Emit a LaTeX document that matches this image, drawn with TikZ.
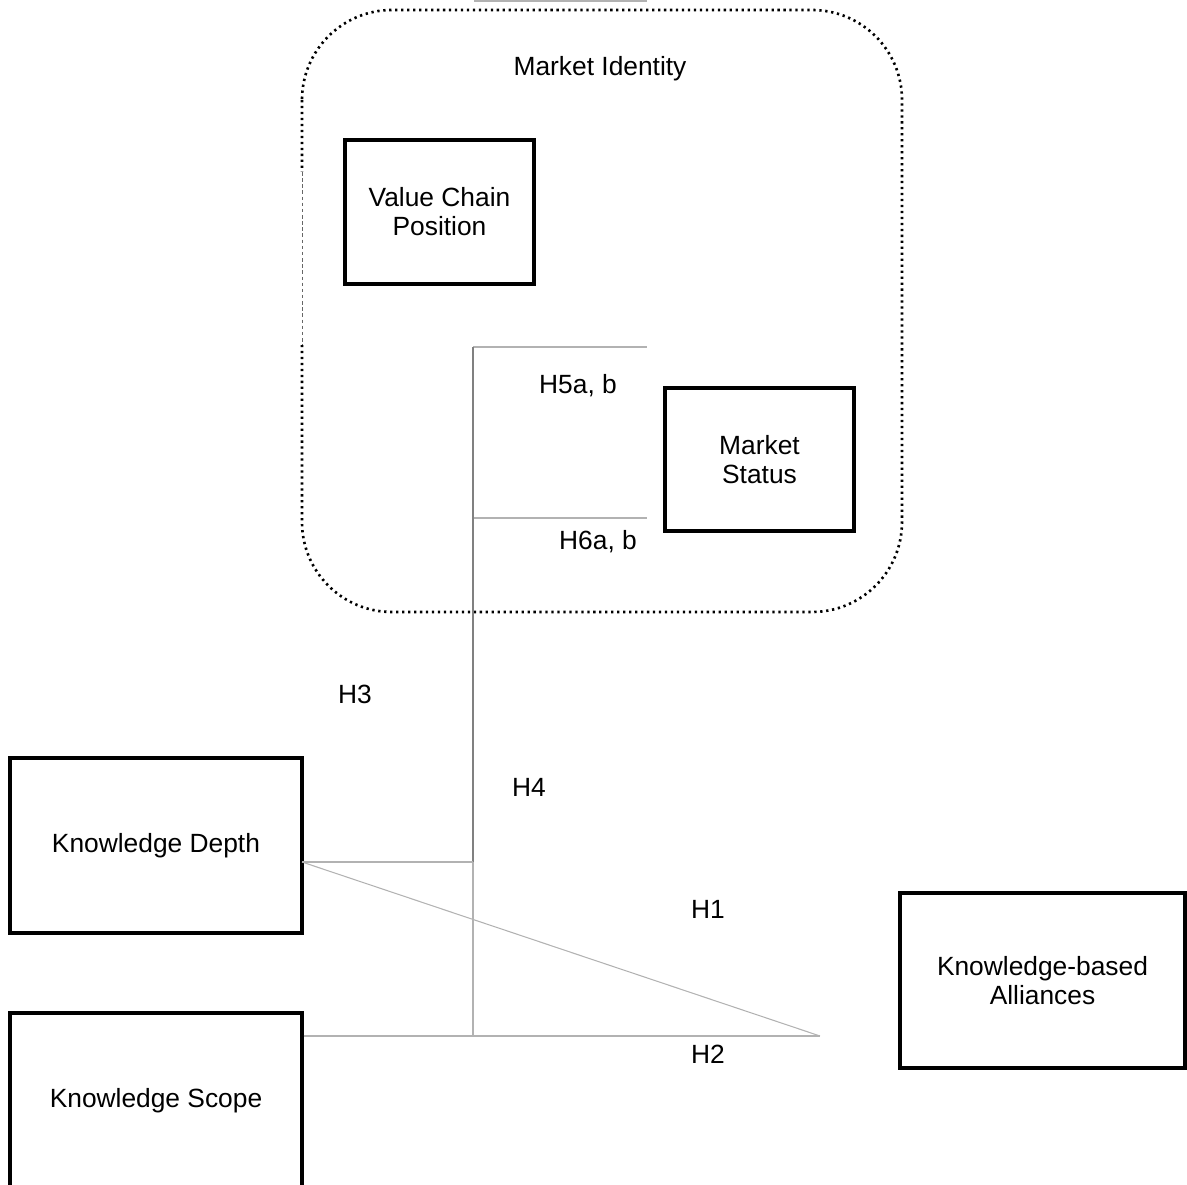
\documentclass[tikz,border=0pt]{standalone}
\usepackage{fontspec}
\setmainfont{Liberation Sans}
\usepackage{tikz}
\usetikzlibrary{positioning}

\begin{document}
\begin{tikzpicture}[x=0.02cm, y=-0.02cm,
  every node/.style={font=\fontsize{15}{16.5}\selectfont, align=center},
  box/.style={draw, line width=1.8pt, inner sep=0pt},
  link/.style={draw=black!30, line width=0.6pt},
  darklink/.style={draw=black!50, line width=0.6pt},
  hyp/.style={inner sep=1pt}]
\useasboundingbox (0,0) rectangle (1187,1185);
% market identity frame
\draw[line width=1.5pt, dash pattern=on 1.3pt off 2.1pt, rounded corners=1.8cm] (302,10) rectangle (902,612);
\draw[white, line width=2.8pt] (302,172) -- (302,345);
\draw[black!60, line width=0.5pt, dash pattern=on 2pt off 1.5pt] (302,172) -- (302,345);
\node (mi) at (600,69) {Market Identity};
\node[box, minimum width=3.78cm, minimum height=2.88cm] (vcp) at (439.5,212) {Value Chain\\Position};
\node[box, minimum width=3.78cm, minimum height=2.86cm] (ms) at (759.5,459.5) {Market\\Status};
\node[box, minimum width=5.84cm, minimum height=3.5cm] (kd) at (156,845.5) {Knowledge Depth};
\node[box, minimum width=5.84cm, minimum height=3.52cm] (ks) at (156,1101) {Knowledge Scope};
\node[box, minimum width=5.7cm, minimum height=3.5cm] (kba) at (1042.5,980.5) {Knowledge-based\\Alliances};
% junctions
\coordinate (top0) at (474,1);
\coordinate (top1) at (647,1);
\coordinate (h5) at (473,347);
\coordinate (h5e) at (647,347);
\coordinate (h6) at (473,518);
\coordinate (h6e) at (647,518);
\coordinate (kdout) at (302,862);
\coordinate (hub) at (473,862);
\coordinate (base) at (473,1036);
\coordinate (tip) at (820,1036);
\draw[link] (top0) -- (top1);
\draw[link] (h5) -- (h5e);
\draw[link] (h6) -- (h6e);
\draw[darklink] (h5) -- (hub);
\draw[link] (hub) -- (base);
\draw[link] (kdout) -- (hub);
\draw[link] (kdout) -- (tip);
\draw[link] (ks.east |- base) -- (tip);
% hypotheses
\node[hyp] (l5) at (578,386) {H5a, b};
\node[hyp] (l6) at (598,542) {H6a, b};
\node[hyp] (l3) at (355,694) {H3};
\node[hyp] (l4) at (529,787) {H4};
\node[hyp] (l1) at (708,909) {H1};
\node[hyp] (l2) at (708,1054) {H2};
\end{tikzpicture}
\end{document}
